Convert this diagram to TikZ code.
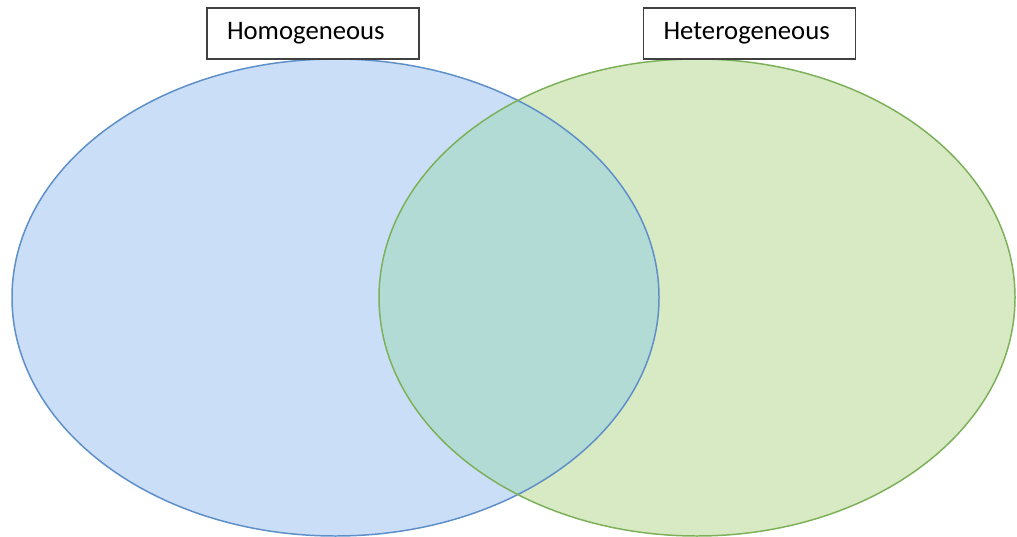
\documentclass[tikz,border=0pt]{standalone}
\usepackage{fontspec}
\setmainfont{Carlito}
\definecolor{homfill}{HTML}{CADEF7}
\definecolor{homline}{HTML}{5E8FC8}
\definecolor{hetfill}{HTML}{D8EAC4}
\definecolor{hetline}{HTML}{7DB159}
\definecolor{bothfill}{HTML}{B3DBD6}
\tikzset{
    label box/.style={draw=black!75, line width=0.8pt, fill=white,
        text width=3.44cm, inner xsep=0.4cm, minimum height=1.02cm,
        align=left, font=\fontsize{15.2}{18}\selectfont},
    set line/.style={line width=0.85pt}
}
\begin{document}
\begin{tikzpicture}[x=0.02cm,y=-0.02cm]
    \useasboundingbox (0,0) rectangle (1017,537);

    % Fill the two sets
    \fill[homfill] (335.5,297.5) ellipse [x radius=323.5, y radius=238.5];
    \fill[hetfill] (697,297.5) ellipse [x radius=318, y radius=238.5];

    % Overlap of both sets
    \begin{scope}
        \clip (335.5,297.5) ellipse [x radius=323.5, y radius=238.5];
        \fill[bothfill] (697,297.5) ellipse [x radius=318, y radius=238.5];
    \end{scope}

    % Outlines
    \draw[set line, homline] (335.5,297.5) ellipse [x radius=323.5, y radius=238.5];
    \draw[set line, hetline] (697,297.5) ellipse [x radius=318, y radius=238.5];

    % Set titles
    \node[label box] (hom) at (313,33.5) {Homogeneous};
    \node[label box] (het) at (749.5,33.5) {Heterogeneous};
\end{tikzpicture}
\end{document}
